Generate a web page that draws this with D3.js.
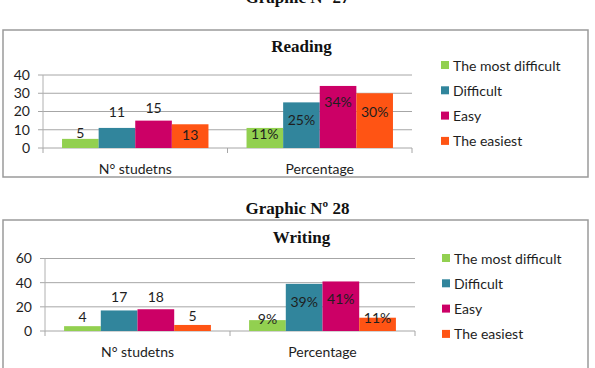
<!DOCTYPE html>
<html>
<head>
<meta charset="utf-8">
<script src="https://cdn.jsdelivr.net/npm/d3@7"></script>
<style>
  body { margin: 0; background: #fff; }
  svg text { font-family: Lato, "Open Sans", sans-serif; fill: #1e1e1e; }
  svg .title { font-family: "Liberation Serif", "DejaVu Serif", serif; font-weight: bold; fill: #111; }
</style>
</head>
<body>
<div id="vis"></div>
<script>
const width = 595;
const height = 368;

// Data
const categories = ["N° studetns", "Percentage"];
const series = ["The most difficult", "Difficult", "Easy", "The easiest"];
const colors = ["#92d050", "#31859c", "#cc0066", "#ff5414"];
const readingStudents = [5, 11, 15, 13];
const readingPercent = [11, 25, 34, 30];
const writingStudents = [4, 17, 18, 5];
const writingPercent = [9, 39, 41, 11];
const readingTicks = [0, 10, 20, 30, 40];
const writingTicks = [0, 20, 40, 60];

const svg = d3.select("#vis").append("svg")
  .attr("width", width)
  .attr("height", height);

function drawChart(cfg) {
  const g = svg.append("g");

  // outer title above the box
  g.append("text")
    .attr("class", "title")
    .attr("x", width / 2)
    .attr("y", cfg.headY)
    .attr("text-anchor", "middle")
    .style("font-size", "17px")
    .text(cfg.head);

  // chart frame
  g.append("rect")
    .attr("x", 3)
    .attr("y", cfg.boxTop)
    .attr("width", 585)
    .attr("height", cfg.boxHeight)
    .attr("fill", "none")
    .attr("stroke", "#9a9a9a")
    .attr("stroke-width", 1.5);

  g.append("text")
    .attr("class", "title")
    .attr("x", width / 2 + 4)
    .attr("y", cfg.titleY)
    .attr("text-anchor", "middle")
    .style("font-size", "17px")
    .text(cfg.title);

  const x0 = d3.scaleBand()
    .domain(categories)
    .range([cfg.left, cfg.right]);

  const x1 = d3.scaleBand()
    .domain(series)
    .range([0, x0.bandwidth()])
    .paddingOuter(0.52);

  const y = d3.scaleLinear()
    .domain([0, d3.max(cfg.ticks)])
    .range([cfg.bottom, cfg.top]);

  // gridlines
  g.append("g")
    .selectAll("line")
    .data(cfg.ticks)
    .enter().append("line")
    .attr("x1", cfg.left - 5)
    .attr("x2", cfg.right)
    .attr("y1", d => y(d))
    .attr("y2", d => y(d))
    .attr("stroke", "#a6a6a6")
    .attr("stroke-width", 1);

  // y axis labels
  const yAxis = g.append("g")
    .attr("transform", `translate(${cfg.left}, 0)`)
    .call(d3.axisLeft(y).tickValues(cfg.ticks).tickSize(0).tickPadding(13));
  yAxis.select(".domain").remove();
  yAxis.selectAll("text")
    .style("font-size", "14px")
    .style("font-family", "Lato, sans-serif")
    .attr("fill", "#1e1e1e");

  // vertical axis line
  g.append("line")
    .attr("x1", cfg.left).attr("x2", cfg.left)
    .attr("y1", cfg.top).attr("y2", cfg.bottom)
    .attr("stroke", "#b0b0b0");

  // category ticks
  const edges = categories.map(c => x0(c)).concat([cfg.right]);
  g.append("g")
    .selectAll("line")
    .data(edges)
    .enter().append("line")
    .attr("x1", d => d).attr("x2", d => d)
    .attr("y1", cfg.bottom).attr("y2", cfg.bottom + 5)
    .attr("stroke", "#a6a6a6");

  g.append("g")
    .selectAll("text")
    .data(categories)
    .enter().append("text")
    .attr("x", d => x0(d) + x0.bandwidth() / 2)
    .attr("y", cfg.bottom + 20)
    .attr("dominant-baseline", "central")
    .attr("text-anchor", "middle")
    .style("font-size", "14px")
    .text(d => d);

  // bars
  const groups = g.selectAll(".grp")
    .data(cfg.values)
    .enter().append("g")
    .attr("class", "grp")
    .attr("transform", (d, i) => `translate(${x0(categories[i])}, 0)`);

  groups.selectAll("rect")
    .data((d, i) => d.map((v, j) => ({ v, j, cat: i })))
    .enter().append("rect")
    .attr("x", d => x1(series[d.j]))
    .attr("width", x1.bandwidth())
    .attr("y", d => y(d.v))
    .attr("height", d => cfg.bottom - y(d.v))
    .attr("fill", d => colors[d.j]);

  groups.selectAll("text")
    .data((d, i) => d.map((v, j) => ({ v, j, cat: i })))
    .enter().append("text")
    .attr("x", d => x1(series[d.j]) + x1.bandwidth() / 2)
    .attr("y", d => y(d.v) + cfg.labelDy[d.cat][d.j])
    .attr("text-anchor", "middle")
    .attr("dominant-baseline", "central")
    .style("font-size", "14px")
    .text(d => d.cat === 1 ? d.v + "%" : d.v);

  // legend
  const legend = g.append("g")
    .attr("transform", `translate(${cfg.legendX}, ${cfg.legendY})`);

  const items = legend.selectAll("g")
    .data(series)
    .enter().append("g")
    .attr("transform", (d, i) => `translate(0, ${i * 25.3})`);

  items.append("rect")
    .attr("x", 0)
    .attr("y", -4)
    .attr("width", 8)
    .attr("height", 8)
    .attr("fill", (d, i) => colors[i]);

  items.append("text")
    .attr("x", 12)
    .attr("y", 0)
    .attr("dominant-baseline", "central")
    .style("font-size", "14px")
    .text(d => d);
}

drawChart({
  head: "Graphic  Nº 27",
  headY: 3,
  title: "Reading",
  titleY: 52,
  boxTop: 30,
  boxHeight: 147,
  left: 43,
  right: 412,
  top: 75,
  bottom: 148,
  ticks: readingTicks,
  values: [readingStudents, readingPercent],
  labelDy: [[-6, -16, -13, 10], [6, 17, 16, 18]],
  legendX: 441,
  legendY: 65
});

drawChart({
  head: "Graphic  Nº 28",
  headY: 214,
  title: "Writing",
  titleY: 243,
  boxTop: 220,
  boxHeight: 160,
  left: 45,
  right: 415,
  top: 258.5,
  bottom: 331,
  ticks: writingTicks,
  values: [writingStudents, writingPercent],
  labelDy: [[-10, -14, -13, -9], [-2, 18, 17, 0]],
  legendX: 442,
  legendY: 258
});
</script>
</body>
</html>
